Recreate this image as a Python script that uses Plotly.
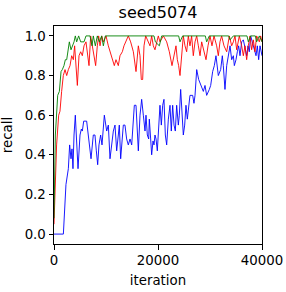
import plotly.graph_objects as go

title = "seed5074"

blue_iter = [0, 1800, 2300, 2760, 3010, 3270, 3460, 3650, 3850, 4100, 4290, 4620, 5000, 5260, 5450, 5710,
             6280, 6540, 6790, 7120, 7560, 7880, 8140, 8400, 8650, 8970, 9230, 9680, 10130, 10450, 10770,
             11090, 11410, 11730, 12050, 12370, 12560, 12820, 13330, 13650, 13970, 14290, 14620, 14940,
             15260, 15450, 15770, 16030, 16220, 16540, 16860, 17180, 17500, 17690, 17950, 18210, 18330,
             18590, 18780, 19040, 19230, 19420, 19620, 19870, 20380, 20640, 20900, 21150, 21410, 21670,
             21990, 22310, 22560, 22820, 23080, 23330, 23590, 23910, 24100, 24360, 24620, 24870, 25130,
             25380, 25640, 25900, 26150, 26670, 26920, 27120, 27440, 27820, 28330, 28720, 29040, 29360,
             29870, 30130, 30510, 30830, 31150, 31600, 32050, 32370, 32560, 32880, 33210, 33590, 33850,
             34170, 34490, 34680, 35000, 35260, 35510, 35770, 36090, 36410, 36730, 37050, 37310, 37560,
             37820, 38140, 38460, 38850, 39100, 39360, 39620, 40000]
blue_recall = [0.0, 0.0, 0.25, 0.33, 0.45, 0.38, 0.43, 0.33, 0.5, 0.6, 0.5, 0.33, 0.5, 0.53, 0.52, 0.57,
               0.57, 0.5, 0.45, 0.38, 0.5, 0.5, 0.42, 0.35, 0.45, 0.5, 0.45, 0.6, 0.52, 0.55, 0.38,
               0.45, 0.52, 0.55, 0.42, 0.5, 0.55, 0.38, 0.55, 0.55, 0.48, 0.45, 0.48, 0.45,
               0.55, 0.65, 0.65, 0.5, 0.42, 0.6, 0.68, 0.6, 0.52, 0.6, 0.5, 0.48, 0.58,
               0.48, 0.40, 0.47, 0.45, 0.5, 0.48, 0.42, 0.65, 0.55, 0.65, 0.68, 0.5, 0.45,
               0.58, 0.65, 0.52, 0.65, 0.55, 0.52, 0.65, 0.55, 0.6, 0.73, 0.6, 0.5, 0.55,
               0.65, 0.58, 0.65, 0.7, 0.7, 0.66, 0.7, 0.83, 0.78, 0.75, 0.72, 0.75, 0.70,
               0.73, 0.75, 0.82, 0.85, 0.9, 0.8, 0.83, 0.9, 0.85, 0.73, 0.85, 0.9, 0.95,
               0.88, 0.9, 0.85, 0.88, 0.92, 0.95, 0.9, 0.97, 0.98, 0.93, 0.9, 0.95, 0.92,
               1.0, 0.97, 0.93, 0.9, 0.95, 0.88, 0.95, 0.9]

red_iter = [0, 500, 900, 1150, 1470, 1790, 2120, 2440, 2760, 3080, 3400, 3720, 3970, 4230, 4490, 4810,
            5130, 5450, 5770, 6150, 6470, 6730, 7050, 7370, 7690, 8010, 8330, 8590, 8850, 9170, 9490,
            10000, 10450, 10960, 11280, 11600, 11920, 12370, 12690, 13140, 13460, 13850, 14290, 14740,
            15260, 15770, 16220, 16540, 16790, 17050, 17310, 17630, 18140, 18460, 18780, 19100, 19420,
            19740, 20060, 20380, 21030, 21670, 22180, 22690, 23080, 23460, 23720, 23970, 24230, 24550,
            24870, 25190, 25510, 25830, 26150, 26470, 26790, 27120, 27440, 27760, 28080, 28400, 28850,
            29230, 29620, 30000, 30380, 30770, 31280, 31600, 31920, 32240, 32690, 33210, 33720, 34170,
            34490, 34810, 35130, 35640, 36090, 36410, 36730, 37050, 37370, 37690, 38010, 38330, 38650,
            38970, 39490, 39740, 40000]
red_recall = [0.05, 0.45, 0.6, 0.62, 0.72, 0.8, 0.83, 0.8, 0.83, 0.85, 0.9, 0.88, 0.95, 0.82, 0.75, 0.9,
              0.92, 0.9, 0.95, 0.97, 0.9, 0.85, 1.0, 0.95, 0.9, 0.85, 0.95, 1.0, 0.95, 1.0, 0.97,
              1.0, 0.95, 0.9, 0.88, 0.85, 0.88, 0.85, 0.9, 0.92, 0.95, 0.97, 1.0, 0.97,
              0.92, 0.82, 0.95, 0.9, 0.78, 0.78, 0.95, 1.0, 0.97, 0.95, 1.0, 0.95, 0.93,
              0.97, 1.0, 0.97, 1.0, 0.97, 0.92, 0.85, 0.9, 0.95, 0.88, 0.85, 0.8, 0.9,
              1.0, 0.95, 0.92, 1.0, 0.95, 1.0, 0.9, 0.97, 1.0, 0.95, 0.9, 0.97, 0.92,
              0.88, 0.95, 1.0, 0.95, 1.0, 0.95, 0.9, 0.97, 1.0, 0.95, 0.92, 1.0, 0.95,
              0.97, 1.0, 0.93, 1.0, 0.95, 0.9, 0.95, 0.88, 0.95, 1.0, 0.93, 0.98, 0.92,
              1.0, 0.97, 1.0, 0.97]

green_iter = [0, 260, 710, 1030, 1350, 1600, 1920, 2180, 2440, 2760, 2950, 3270, 3590, 3850, 4100, 4360,
              4740, 5130, 5770, 6150, 6920, 7310, 7560, 7950, 8330, 8720, 9170, 9490, 9870, 19230,
              19490, 20260, 20710, 23970, 24230, 24740, 29100, 29360, 29870, 33590, 33850, 34490,
              37120, 37370, 37820, 38720, 38970, 39490, 40000]
green_recall = [0.08, 0.5, 0.7, 0.72, 0.82, 0.83, 0.85, 0.88, 0.88, 0.93, 0.97, 0.93, 0.95, 0.97, 1.0, 0.97,
                1.0, 0.97, 0.97, 1.0, 1.0, 0.95, 1.0, 0.95, 1.0, 0.97, 1.0, 0.95, 1.0, 1.0,
                0.97, 0.95, 1.0, 1.0, 0.97, 1.0, 1.0, 0.97, 1.0, 1.0, 0.98, 1.0,
                1.0, 0.97, 1.0, 1.0, 0.97, 1.0, 0.97]

x_ticks = [0, 20000, 40000]
y_ticks = [0.0, 0.2, 0.4, 0.6, 0.8, 1.0]

FONT = "DejaVu Sans"

fig = go.Figure()
for xs, ys, col in [(blue_iter, blue_recall, "blue"), (red_iter, red_recall, "red"),
                    (green_iter, green_recall, "green")]:
    fig.add_trace(go.Scatter(x=xs, y=ys, mode="lines", line=dict(color=col, width=0.9),
                             showlegend=False, hoverinfo="skip"))

axis_common = dict(showline=True, linecolor="black", linewidth=1, mirror=True, ticks="outside",
                   ticklen=4.5, tickwidth=1, tickcolor="black", showgrid=False, zeroline=False,
                   automargin=False,
                   tickfont=dict(family=FONT, size=13.33, color="black"),
                   title_font=dict(family=FONT, size=13.33, color="black"))

fig.update_xaxes(range=[0, 40000], tickvals=x_ticks, ticktext=[str(t) for t in x_ticks],
                 title_text="iteration", title_standoff=8, **axis_common)
fig.update_yaxes(range=[-0.05, 1.05], tickvals=y_ticks, ticktext=[f"{t:.1f}" for t in y_ticks],
                 title_text="recall", title_standoff=12, **axis_common)

W, H = 286, 292
fig.update_layout(
    width=W, height=H,
    margin=dict(l=54, r=24, t=26, b=48),
    paper_bgcolor="white", plot_bgcolor="white",
    hovermode=False,
    title=dict(text=title, x=158 / W, xanchor="center", xref="container",
               y=1 - 12 / H, yref="container", yanchor="middle",
               font=dict(family=FONT, size=16, color="black")),
)

# remove the default 8px page margin so the figure sits at the window's corner
fig.write_html("out.html", config={"displayModeBar": False},
               post_script="document.body.style.margin='0';")
